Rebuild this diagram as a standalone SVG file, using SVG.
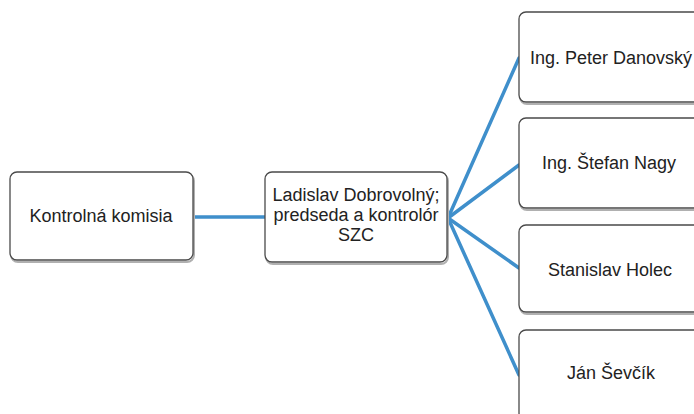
<svg xmlns="http://www.w3.org/2000/svg" width="694" height="414" viewBox="0 0 694 414">
<style>
.box{fill:#fff;stroke:#4a4a4a;stroke-width:1.3}
.sh{fill:none;stroke:#b0b0b0;stroke-width:2}
.t{font-family:"Liberation Sans",Arial,sans-serif;font-size:18px;fill:#222;text-anchor:middle}
.c{stroke:#3f8fcb;stroke-width:3.5;fill:none;stroke-linecap:round}
</style>
<rect width="694" height="414" fill="#fff"/>
<g id="connectors">
<line class="c" x1="194" y1="217" x2="265" y2="217"/>
<line class="c" x1="448" y1="218" x2="519" y2="58"/>
<line class="c" x1="448" y1="218" x2="519" y2="165"/>
<line class="c" x1="448" y1="218" x2="519" y2="268"/>
<line class="c" x1="448" y1="218" x2="519" y2="375"/>
</g>
<g id="n1">
<rect class="sh" x="11" y="174" width="183" height="88" rx="7"/>
<rect class="box" x="10" y="172" width="183" height="88" rx="7"/>
<text class="t" x="101" y="222">Kontrolná komisia</text>
</g>
<g id="n2">
<rect class="sh" x="266" y="174" width="182" height="90" rx="7"/>
<rect class="box" x="265" y="172" width="182" height="90" rx="7"/>
<text class="t" x="356" y="201">Ladislav Dobrovolný;</text>
<text class="t" x="356" y="221">predseda a kontrolór</text>
<text class="t" x="356" y="241">SZC</text>
</g>
<g id="n3">
<rect class="sh" x="520" y="14" width="190" height="90" rx="7"/>
<rect class="box" x="519" y="12" width="190" height="90" rx="7"/>
<text class="t" x="611" y="64">Ing. Peter Danovský</text>
</g>
<g id="n4">
<rect class="sh" x="520" y="120" width="190" height="90" rx="7"/>
<rect class="box" x="519" y="118" width="190" height="90" rx="7"/>
<text class="t" x="609" y="169">Ing. Štefan Nagy</text>
</g>
<g id="n5">
<rect class="sh" x="520" y="227" width="190" height="87" rx="7"/>
<rect class="box" x="519" y="225" width="190" height="87" rx="7"/>
<text class="t" x="610" y="276">Stanislav Holec</text>
</g>
<g id="n6">
<rect class="sh" x="520" y="332" width="190" height="90" rx="7"/>
<rect class="box" x="519" y="330" width="190" height="90" rx="7"/>
<text class="t" x="611" y="379">Ján Ševčík</text>
</g>
</svg>
